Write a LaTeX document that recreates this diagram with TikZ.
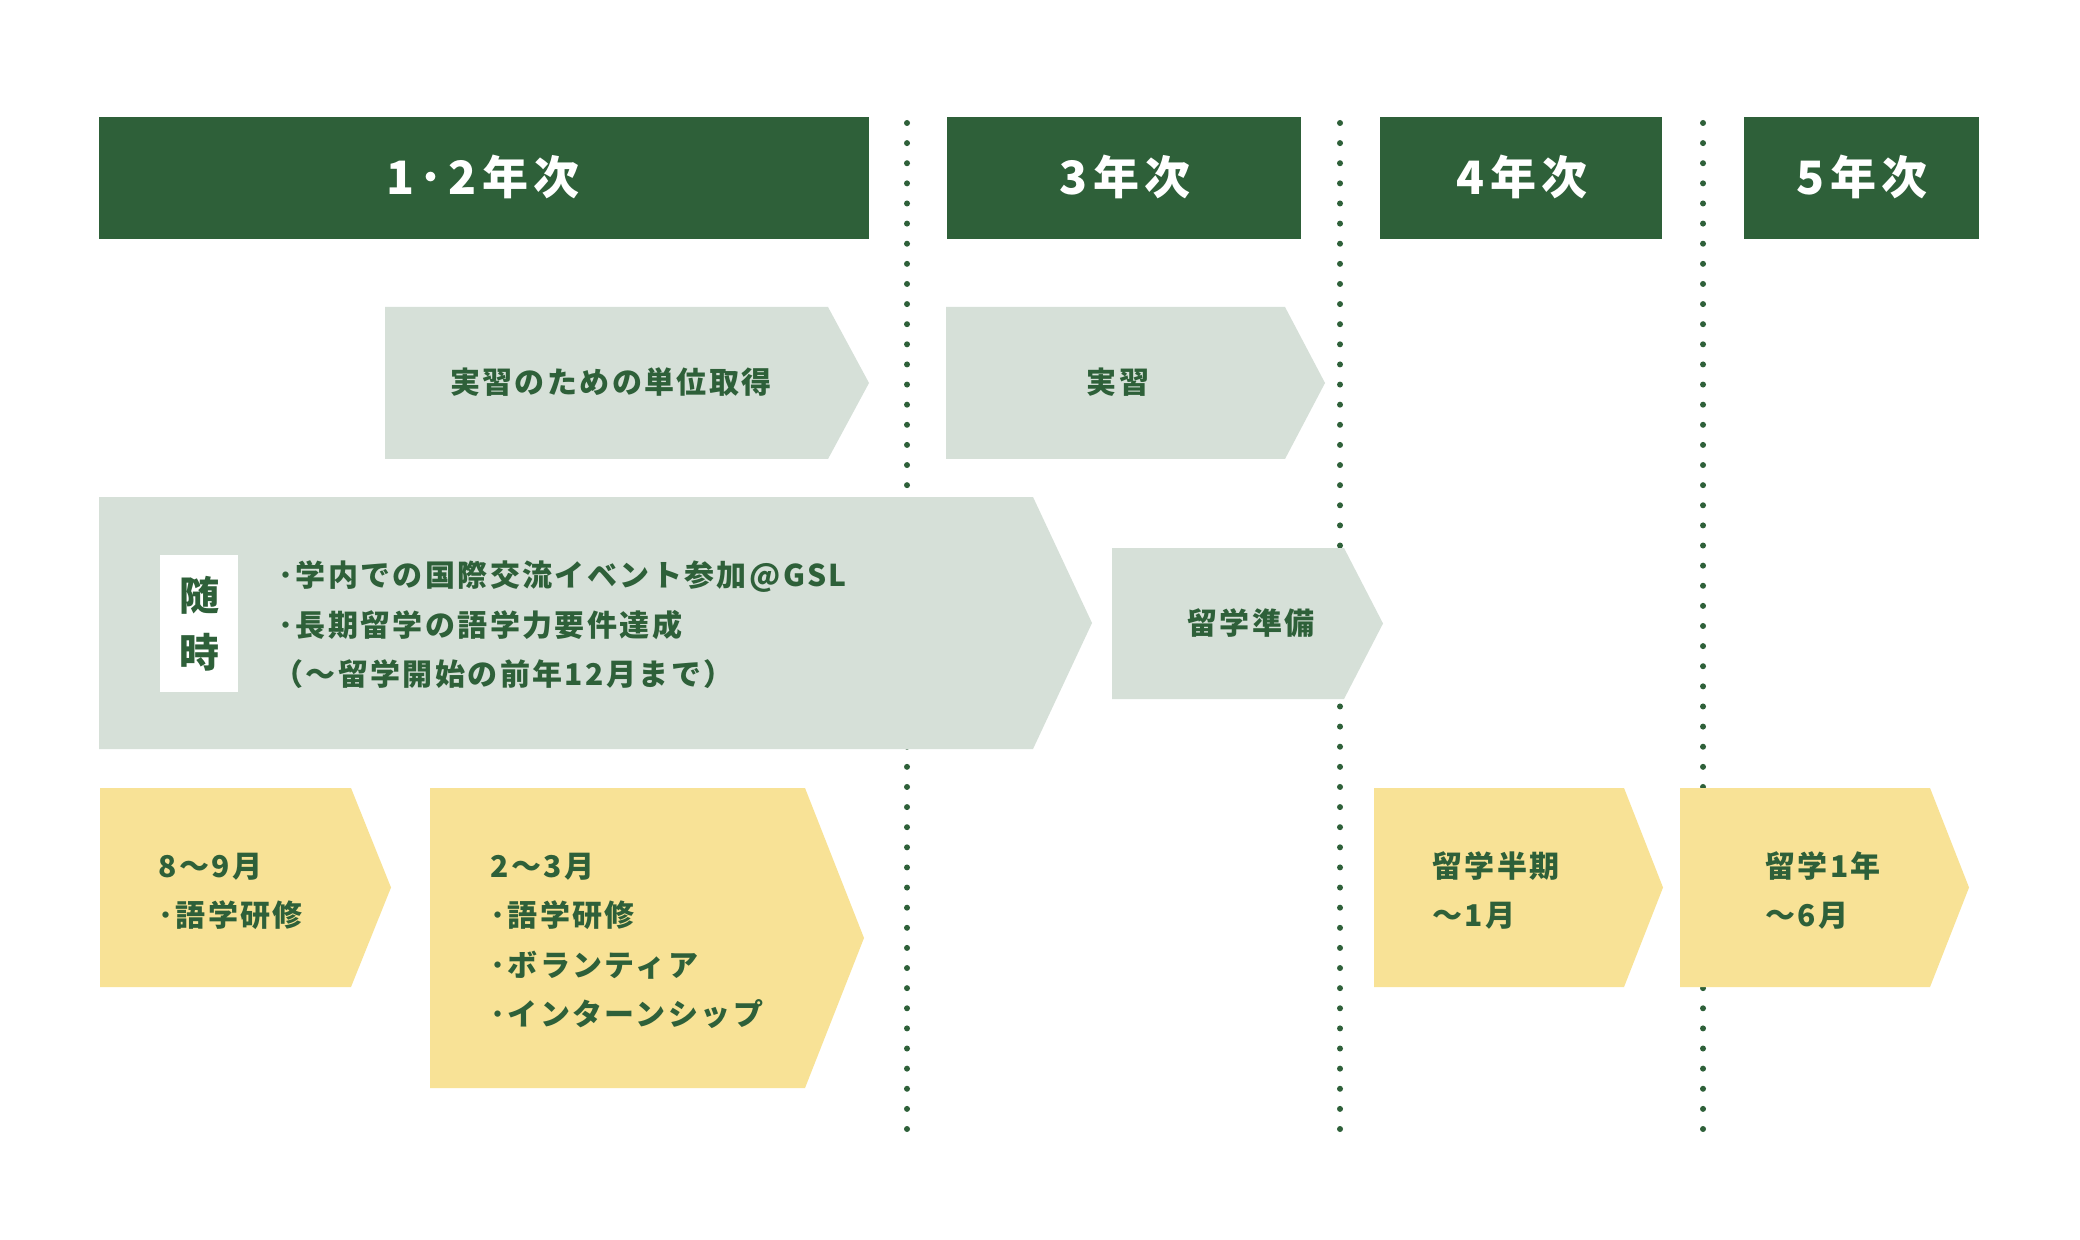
\documentclass[tikz,border=0pt]{standalone}
\usepackage{fontspec}
\newfontfamily\jp{Noto Sans CJK JP}[LetterSpace=8]
\newfontfamily\jph{Noto Sans CJK JP}[LetterSpace=12]
\definecolor{dg}{HTML}{2E6039}
\definecolor{lg}{HTML}{D6E0D8}
\definecolor{yl}{HTML}{F8E296}
\tikzset{
  headtxt/.style={text=white, font=\jph\bfseries\fontsize{23}{26}\selectfont, inner sep=0pt, anchor=base},
  body/.style={text=dg, font=\jp\bfseries\fontsize{15}{17}\selectfont, inner sep=0pt, anchor=base west},
  bodyc/.style={body, anchor=base},
  bigtxt/.style={text=dg, font=\jp\bfseries\fontsize{20}{22}\selectfont, inner sep=0pt, anchor=base},
  dotline/.style={dg, line width=3pt, line cap=round, dash pattern=on 0pt off 10.06pt},
}
\begin{document}
\begin{tikzpicture}[x=0.5pt,y=-0.5pt]
\useasboundingbox[fill=white] (0,0) rectangle (2080,1240);
% dotted separators
\coordinate (d1t) at (907,123); \coordinate (d1b) at (907,1130);
\coordinate (d2t) at (1340,123); \coordinate (d2b) at (1340,1130);
\coordinate (d3t) at (1703,123); \coordinate (d3b) at (1703,1130);
\draw[dotline] (d1t) -- (d1b);
\draw[dotline] (d2t) -- (d2b);
\draw[dotline] (d3t) -- (d3b);
% headers
\fill[dg] (99,117) rectangle (869,239);
\fill[dg] (947,117) rectangle (1301,239);
\fill[dg] (1380,117) rectangle (1662,239);
\fill[dg] (1744,117) rectangle (1979,239);
\node[headtxt] (h12) at (483,195) {1･2年次};
\node[headtxt] (h3) at (1125,195) {3年次};
\node[headtxt] (h4) at (1522,195) {4年次};
\node[headtxt] (h5) at (1862,195) {5年次};
% row 1
\fill[lg] (385,307) -- (828,307) -- (869,383) -- (828,459) -- (385,459) -- cycle;
\fill[lg] (946,307) -- (1285,307) -- (1325,383) -- (1285,459) -- (946,459) -- cycle;
\node[bodyc] (t1) at (611,394) {実習のための単位取得};
\node[bodyc] (t2) at (1118,394) {実習};
% row 2
\fill[lg] (99,497) -- (1033,497) -- (1092,623) -- (1033,749) -- (99,749) -- cycle;
\fill[lg] (1112,548) -- (1344,548) -- (1383,623.5) -- (1344,699) -- (1112,699) -- cycle;
\fill[white] (160,555) rectangle (238,692);
\node[bigtxt] (sui) at (199,610) {随};
\node[bigtxt] (ji) at (199,667) {時};
\node[body] (l1) at (278,586) {･学内での国際交流イベント参加@GSL};
\node[body] (l2) at (278,636) {･長期留学の語学力要件達成};
\node[body] (l3) at (273,685) {（〜留学開始の前年12月まで）};
\node[bodyc] (t3) at (1251,634) {留学準備};
% row 3
\fill[yl] (100,788) -- (351,788) -- (391,887.5) -- (351,987) -- (100,987) -- cycle;
\fill[yl] (430,788) -- (805,788) -- (864,938) -- (805,1088) -- (430,1088) -- cycle;
\fill[yl] (1374,788) -- (1624,788) -- (1663,887.5) -- (1624,987) -- (1374,987) -- cycle;
\fill[yl] (1680,788) -- (1930,788) -- (1969,887.5) -- (1930,987) -- (1680,987) -- cycle;
\node[body] (a1) at (158,877) {8〜9月};
\node[body] (a2) at (158,926) {･語学研修};
\node[body] (b1) at (490,877) {2〜3月};
\node[body] (b2) at (490,926) {･語学研修};
\node[body] (b3) at (490,976) {･ボランティア};
\node[body] (b4) at (490,1025) {･インターンシップ};
\node[body] (c1) at (1432,877) {留学半期};
\node[body] (c2) at (1432,926) {〜1月};
\node[body] (e1) at (1765,877) {留学1年};
\node[body] (e2) at (1765,926) {〜6月};
\end{tikzpicture}
\end{document}
